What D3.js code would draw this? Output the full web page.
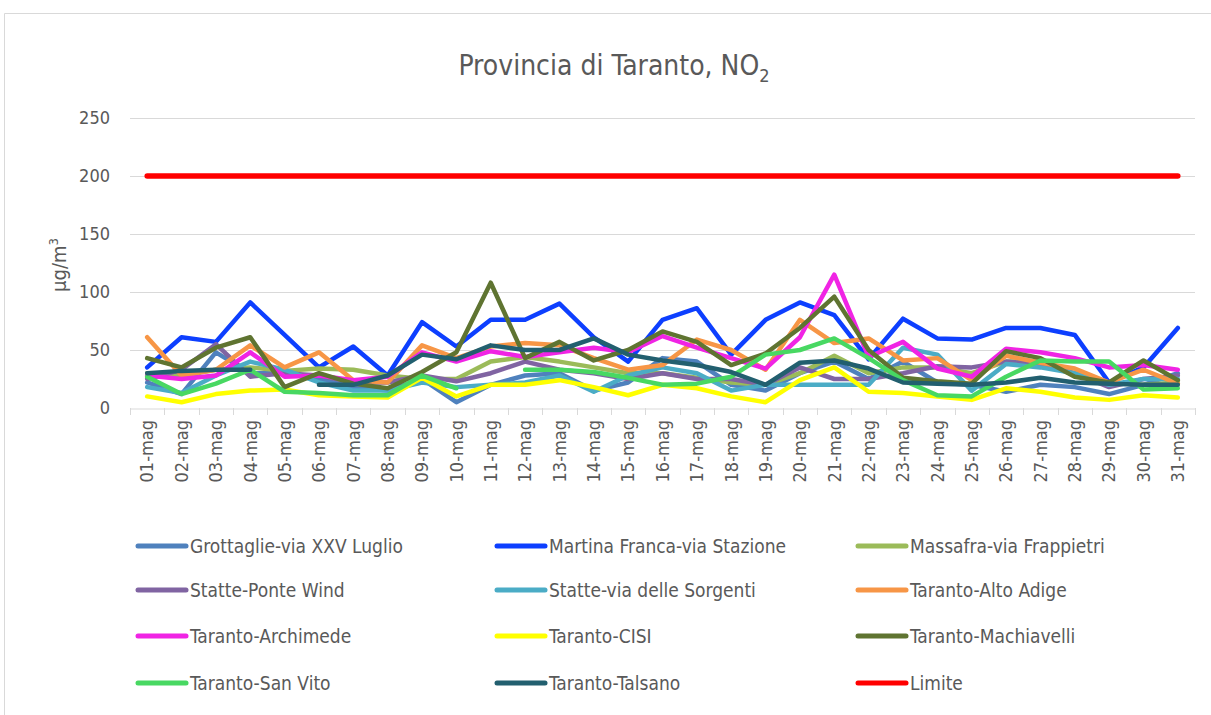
<!DOCTYPE html>
<html>
<head>
<meta charset="utf-8">
<script src="https://cdn.jsdelivr.net/npm/d3@7"></script>
<style>
  body { margin: 0; background: #fff; }
  text { font-family: "Liberation Sans Narrow", "DejaVu Sans Condensed", "Roboto", sans-serif; fill: #595959; }
</style>
</head>
<body>
<svg id="chart"></svg>
<script>
var width = 1211, height = 715;

// data
var days = d3.range(1, 32).map(function(d) { return (d < 10 ? "0" + d : "" + d) + "-mag"; });
var yTicks = [0, 50, 100, 150, 200, 250];

var grottaglie   = [22,12,48,30,30,25,18,15,25,5,20,28,30,15,22,43,40,20,15,30,40,25,40,22,20,14,20,18,12,20,30];
var martina      = [35,61,57,91,63,35,53,28,74,53,76,76,90,61,40,76,86,46,76,91,80,42,77,60,59,69,69,63,22,35,69];
var massafra     = [30,28,33,35,32,34,33,28,25,25,40,44,40,35,30,30,26,22,20,30,45,30,35,35,30,40,40,28,22,20,22];
var pontewind    = [25,33,55,27,30,28,22,22,28,23,30,40,33,30,25,30,25,25,20,35,25,25,30,36,35,40,38,30,18,25,28];
var sorgenti     = [18,13,28,40,33,22,15,15,22,18,20,22,28,14,28,35,30,15,20,20,20,20,52,46,15,38,35,30,20,25,25];
var altoadige    = [61,28,33,54,35,48,24,22,54,43,53,56,54,43,33,37,59,50,33,76,56,60,41,43,24,45,39,34,22,33,21];
var archimede    = [28,25,28,48,27,28,24,27,48,40,49,44,48,52,48,62,52,43,34,61,115,44,57,34,27,51,48,43,35,37,33];
var cisi         = [10,5,12,15,16,11,10,9,26,10,20,20,24,18,11,20,17,10,5,24,35,14,13,10,7,17,14,9,7,11,9];
var machiavelli  = [43,35,52,61,18,30,21,17,31,48,108,43,57,41,50,66,57,37,47,69,96,50,26,23,21,49,43,27,22,41,24];
var sanvito      = [27,12,21,33,14,13,11,11,28,17,null,33,33,31,26,20,21,27,46,50,60,43,24,11,10,27,41,40,40,16,17];
var talsano      = [30,32,33,33,null,20,20,28,46,42,54,50,50,60,46,41,37,31,20,39,41,34,22,21,20,22,26,22,21,20,20];
var limite       = days.map(function() { return 200; });

var series = [
    {name: "Grottaglie-via XXV Luglio", values: grottaglie, color: "#4f81bd"},
    {name: "Martina Franca-via Stazione", values: martina, color: "#0d3fff"},
    {name: "Massafra-via Frappietri", values: massafra, color: "#9bbb59"},
    {name: "Statte-Ponte Wind", values: pontewind, color: "#8064a2"},
    {name: "Statte-via delle Sorgenti", values: sorgenti, color: "#4bacc6"},
    {name: "Taranto-Alto Adige", values: altoadige, color: "#f79646"},
    {name: "Taranto-Archimede", values: archimede, color: "#f024e4"},
    {name: "Taranto-CISI", values: cisi, color: "#ffff00"},
    {name: "Taranto-Machiavelli", values: machiavelli, color: "#5f7431"},
    {name: "Taranto-San Vito", values: sanvito, color: "#48d862"},
    {name: "Taranto-Talsano", values: talsano, color: "#225f6f"},
    {name: "Limite", values: limite, color: "#ff0000"}
];

var svg = d3.select("#chart")
    .attr("width", width)
    .attr("height", height);

// chart frame
svg.append("path")
    .attr("d", "M4.5," + height + "V13.5H" + width)
    .style("fill", "none")
    .style("stroke", "#d9d9d9")
    .style("stroke-width", 1);

var x = d3.scaleBand().domain(days).range([130, 1195]);
var y = d3.scaleLinear().domain([0, 250]).range([408, 118]);

// gridlines
svg.append("g").selectAll("line")
    .data(yTicks.filter(function(t) { return t > 0; }))
    .enter().append("line")
    .attr("x1", 130).attr("x2", 1195)
    .attr("y1", function(d) { return Math.round(y(d)) + 0.5; })
    .attr("y2", function(d) { return Math.round(y(d)) + 0.5; })
    .style("stroke", "#d9d9d9")
    .style("stroke-width", 1);

// y axis labels
svg.append("g").selectAll("text")
    .data(yTicks)
    .enter().append("text")
    .attr("x", 110)
    .attr("y", function(d) { return y(d); })
    .attr("dy", "0.35em")
    .attr("text-anchor", "end")
    .style("font-size", "18px")
    .text(function(d) { return d; });

// x axis
var xAxis = svg.append("g")
    .attr("transform", "translate(0," + (y(0) + 0.5) + ")")
    .call(d3.axisBottom(x).tickSize(0).tickPadding(0));
xAxis.select(".domain").style("stroke", "#d9d9d9");
xAxis.selectAll(".tick text").remove();

// tick marks on category boundaries
svg.append("g").selectAll("line")
    .data(days.concat(["end"]))
    .enter().append("line")
    .attr("x1", function(d, i) { return Math.round(x.range()[0] + i * x.step()) + 0.5; })
    .attr("x2", function(d, i) { return Math.round(x.range()[0] + i * x.step()) + 0.5; })
    .attr("y1", y(0))
    .attr("y2", y(0) + 7)
    .style("stroke", "#d9d9d9");

svg.append("g").selectAll("text")
    .data(days)
    .enter().append("text")
    .attr("transform", function(d) {
        return "translate(" + (x(d) + x.bandwidth() / 2) + "," + 420 + ") rotate(-90)";
    })
    .attr("dy", "0.35em")
    .attr("text-anchor", "end")
    .style("font-size", "18px")
    .text(function(d) { return d; });

// y axis title
var yTitle = svg.append("text")
    .attr("transform", "translate(66,265) rotate(-90)")
    .attr("text-anchor", "middle")
    .style("font-size", "20px");
yTitle.append("tspan").text("\u03bcg/m");
yTitle.append("tspan").attr("dy", "-8").style("font-size", "13px").text("3");

// title
var title = svg.append("text")
    .attr("x", 614)
    .attr("y", 75)
    .attr("text-anchor", "middle")
    .style("font-size", "28px");
title.append("tspan").text("Provincia di Taranto, NO");
title.append("tspan").attr("dy", "7").style("font-size", "18px").text("2");

// series
var line = d3.line()
    .defined(function(d) { return d != null; })
    .x(function(d, i) { return x(days[i]) + x.bandwidth() / 2; })
    .y(function(d) { return y(d); });

svg.append("g").selectAll("path")
    .data(series)
    .enter().append("path")
    .attr("d", function(s) { return line(s.values); })
    .style("fill", "none")
    .style("stroke", function(s) { return s.color; })
    .style("stroke-width", function(s) { return s.name == "Limite" ? 5.5 : 4.5; })
    .style("stroke-linejoin", "round")
    .style("stroke-linecap", "round");

// legend
var colX = [138, 497, 858], rowY = [546, 590, 636, 683];
var legend = svg.append("g").selectAll("g")
    .data(series)
    .enter().append("g")
    .attr("transform", function(s, i) {
        return "translate(" + colX[i % 3] + "," + rowY[Math.floor(i / 3)] + ")";
    });

legend.append("line")
    .attr("x1", 0).attr("x2", 48)
    .style("stroke", function(s) { return s.color; })
    .style("stroke-width", 5)
    .style("stroke-linecap", "round");

legend.append("text")
    .attr("x", 52)
    .attr("dy", "0.35em")
    .style("font-size", "19px")
    .text(function(s) { return s.name; });
</script>
</body>
</html>
